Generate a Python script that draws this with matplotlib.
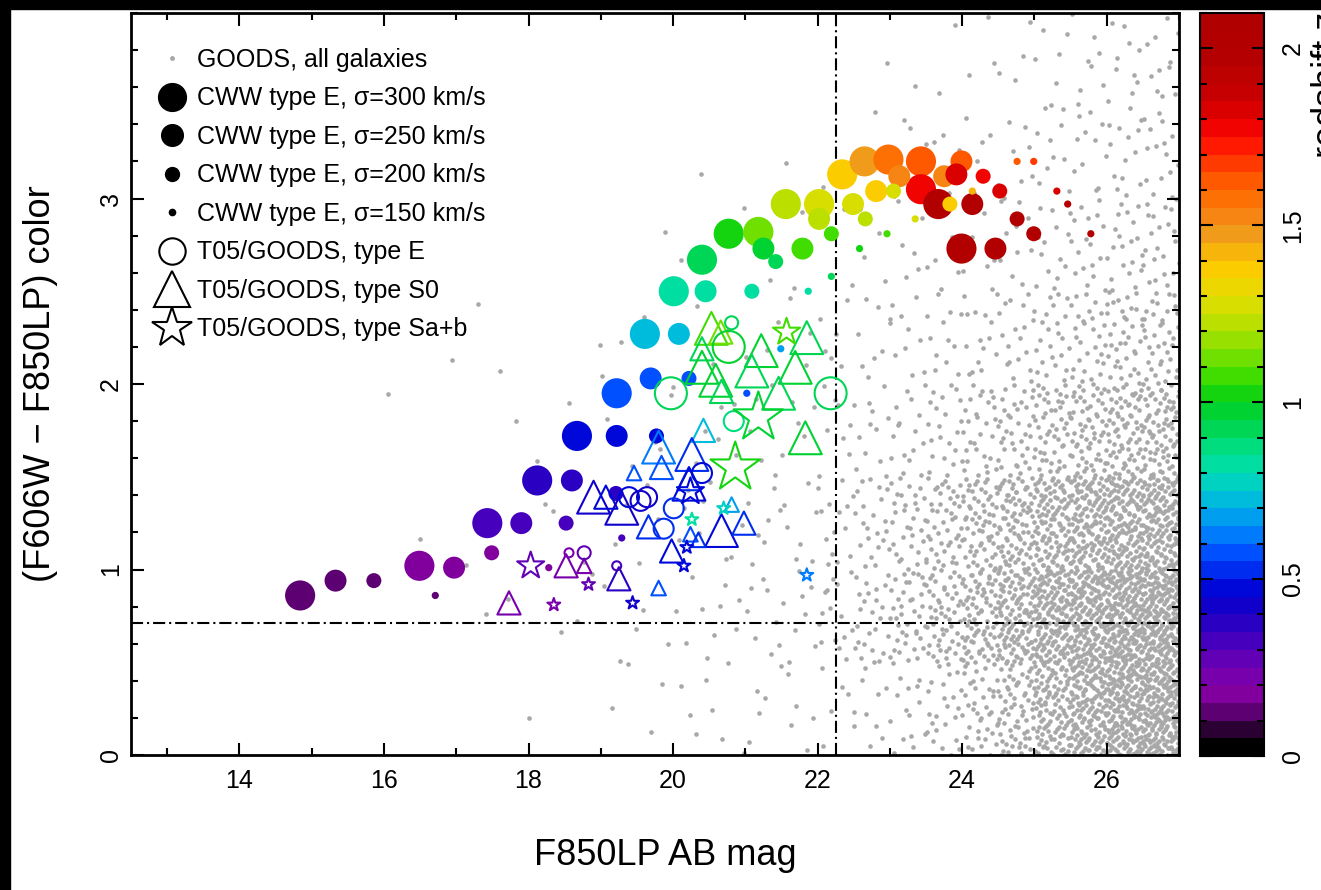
import numpy as np
import matplotlib
matplotlib.use('Agg')
import matplotlib.pyplot as plt
from matplotlib.colors import LinearSegmentedColormap, Normalize
from matplotlib.cm import ScalarMappable
from matplotlib.lines import Line2D
from matplotlib.patches import Rectangle
from matplotlib.ticker import MultipleLocator

plt.rcParams['font.family'] = ['Liberation Sans', 'DejaVu Sans']

# CWW type E model tracks (F850LP mag, F606W-F850LP colour, redshift)
mag300 = [14.84, 16.49, 17.43, 18.12, 18.67, 19.22, 19.61, 20.01, 20.40, 20.77, 21.18,
          21.56, 22.02, 22.34, 22.65, 22.98, 23.43, 23.43, 23.67, 23.99]
col300 = [0.86, 1.02, 1.25, 1.48, 1.72, 1.95, 2.27, 2.50, 2.67, 2.81, 2.82,
          2.97, 2.97, 3.13, 3.20, 3.21, 3.20, 3.05, 2.97, 2.73]
z300 = [0.10, 0.17, 0.30, 0.38, 0.45, 0.58, 0.72, 0.84, 0.95, 1.02, 1.10,
        1.20, 1.28, 1.38, 1.48, 1.55, 1.62, 1.78, 2.02, 2.05]

mag250 = [15.33, 16.97, 17.90, 18.60, 19.22, 19.69, 20.08, 20.45, 21.25, 21.79,
          22.02, 22.49, 22.81, 23.13, 23.75, 23.99, 23.92, 24.14, 24.46]
col250 = [0.94, 1.01, 1.25, 1.48, 1.72, 2.03, 2.27, 2.50, 2.73, 2.73,
          2.89, 2.97, 3.04, 3.12, 3.12, 3.20, 3.13, 2.97, 2.73]
z250 = [0.10, 0.17, 0.30, 0.38, 0.45, 0.58, 0.72, 0.84, 0.98, 1.05,
        1.20, 1.25, 1.38, 1.50, 1.52, 1.60, 1.80, 2.02, 2.05]

mag200 = [15.86, 17.49, 18.52, 19.21, 19.77, 20.22, 21.09, 21.42, 22.19, 22.66,
          23.05, 23.83, 24.29, 24.52, 24.76, 24.99]
col200 = [0.94, 1.09, 1.25, 1.41, 1.72, 2.03, 2.50, 2.66, 2.81, 2.89,
          3.04, 2.97, 3.12, 3.04, 2.89, 2.81]
z200 = [0.10, 0.17, 0.30, 0.38, 0.45, 0.55, 0.84, 0.90, 1.05, 1.20,
        1.28, 1.35, 1.75, 1.80, 2.02, 2.05]

mag150 = [16.71, 18.28, 19.29, 21.02, 21.49, 21.87, 22.19, 22.58, 22.96, 23.35,
          24.14, 24.76, 24.99, 25.31, 25.46, 25.78]
col150 = [0.86, 1.01, 1.17, 1.95, 2.19, 2.50, 2.58, 2.73, 2.81, 2.89,
          3.04, 3.20, 3.20, 3.04, 2.97, 2.81]
z150 = [0.10, 0.17, 0.30, 0.55, 0.68, 0.84, 0.90, 1.00, 1.05, 1.25,
        1.40, 1.60, 1.70, 1.80, 1.95, 2.05]

# T05/GOODS early types: mag, colour, size class, redshift
triE_mag = [20.53, 20.66, 21.85, 20.40, 21.22, 20.40, 21.69, 21.09, 20.59, 21.46, 20.67,
            21.83, 20.42, 19.80, 20.26, 19.84, 19.46, 20.22, 20.22, 18.90, 19.07, 19.29,
            19.66, 20.67, 20.98, 20.81, 20.24, 20.35, 19.98, 18.52, 18.77, 19.25, 19.80, 17.73]
triE_col = [2.30, 2.28, 2.25, 2.19, 2.18, 2.09, 2.09, 2.07, 2.02, 1.95, 1.96,
            1.71, 1.75, 1.66, 1.62, 1.55, 1.52, 1.49, 1.46, 1.39, 1.39, 1.33,
            1.23, 1.21, 1.25, 1.35, 1.19, 1.16, 1.10, 1.02, 1.02, 0.95, 0.90, 0.82]
tri_cls = ['L', 'M', 'L', 'M', 'L', 'L', 'L', 'L', 'L', 'L', 'M',
           'L', 'M', 'L', 'L', 'M', 'S', 'M', 'L', 'L', 'M', 'L',
           'M', 'L', 'M', 'S', 'S', 'S', 'M', 'M', 'S', 'M', 'S', 'M']
tri_z = [1.05, 1.12, 0.95, 0.95, 0.97, 0.97, 0.97, 0.95, 0.97, 0.95, 0.90,
         0.98, 0.70, 0.62, 0.50, 0.55, 0.55, 0.50, 0.45, 0.42, 0.45, 0.42,
         0.50, 0.47, 0.50, 0.65, 0.55, 0.50, 0.45, 0.20, 0.20, 0.35, 0.55, 0.20]

circ_mag = [20.77, 19.97, 22.18, 20.84, 20.40, 19.64, 19.39, 19.55, 20.01, 19.87,
            18.77, 18.56, 19.22, 20.81]
circ_col = [2.20, 1.95, 1.95, 1.80, 1.52, 1.39, 1.39, 1.37, 1.33, 1.22,
            1.09, 1.09, 1.02, 2.33]
circ_cls = ['L', 'L', 'L', 'M', 'M', 'M', 'M', 'M', 'M', 'M', 'S', 'T', 'T', 'S']
circ_z = [0.97, 0.90, 0.90, 0.88, 0.45, 0.42, 0.45, 0.40, 0.50, 0.50,
          0.25, 0.20, 0.30, 0.90]

star_mag = [21.57, 21.18, 20.86, 18.03, 18.35, 18.83, 19.44, 20.15, 20.19, 21.85,
            20.70, 20.26, 20.24]
star_col = [2.28, 1.82, 1.55, 1.02, 0.81, 0.92, 0.82, 1.02, 1.12, 0.97,
            1.33, 1.27, 1.42]
star_cls = ['M', 'L', 'L', 'M', 'S', 'S', 'S', 'S', 'S', 'S', 'S', 'S', 'M']
star_z = [1.05, 0.97, 1.00, 0.25, 0.22, 0.25, 0.40, 0.45, 0.45, 0.62,
          0.75, 0.80, 0.45]

# GOODS field galaxies: counts read per cell (rows: mag bins, cols: colour bins)
grey_mag_edges = [16, 17, 18, 19, 20, 21, 22, 22.5, 23, 23.5, 24, 24.5, 25, 25.5, 26, 26.5, 27]
grey_col_edges = [0, 0.5, 1, 1.5, 2, 2.5, 3, 3.5, 4]
grey_counts = [
    [0, 0, 1, 1, 1, 0, 0, 0],
    [0, 2, 1, 1, 2, 0, 0, 0],
    [1, 3, 3, 2, 1, 0, 0, 0],
    [4, 5, 5, 6, 3, 1, 0, 0],
    [8, 10, 9, 7, 4, 2, 1, 0],
    [10, 16, 14, 10, 6, 4, 1, 0],
    [6, 15, 14, 8, 6, 3, 2, 0],
    [10, 25, 22, 12, 8, 4, 2, 1],
    [15, 38, 32, 16, 10, 6, 4, 1],
    [24, 55, 45, 22, 12, 7, 4, 2],
    [40, 80, 65, 30, 15, 8, 6, 3],
    [65, 115, 85, 38, 18, 10, 7, 4],
    [110, 155, 110, 52, 24, 14, 10, 6],
    [155, 180, 130, 62, 30, 17, 11, 8],
    [190, 200, 145, 72, 36, 20, 14, 10],
    [200, 200, 150, 75, 38, 22, 15, 11],
]

# colour scale
zmax = 2.1
cmap_nodes = [(0.00, '#000000'), (0.05, '#2a0030'), (0.10, '#5a0070'), (0.15, '#82009c'),
              (0.22, '#7400b0'), (0.30, '#4a00bc'), (0.40, '#1400c8'), (0.45, '#0000d4'),
              (0.50, '#0024ea'), (0.55, '#0044ff'), (0.60, '#0070ff'), (0.65, '#0094f4'),
              (0.70, '#00b4e4'), (0.75, '#00cccc'), (0.80, '#00dcae'), (0.85, '#00e090'),
              (0.90, '#00d866'), (0.95, '#00d440'), (1.00, '#00d020'), (1.05, '#28d800'),
              (1.10, '#58e000'), (1.15, '#84e000'), (1.20, '#a8e000'), (1.25, '#c8e000'),
              (1.30, '#e0dc00'), (1.35, '#f4d400'), (1.40, '#ffc800'), (1.45, '#f4ac10'),
              (1.50, '#f09420'), (1.55, '#f88010'), (1.60, '#ff6c00'), (1.65, '#ff5400'),
              (1.70, '#ff3400'), (1.75, '#ff1400'), (1.80, '#ee0000'), (1.85, '#d80000'),
              (1.90, '#c40000'), (2.00, '#b40000'), (2.10, '#b00000')]
cmap = LinearSegmentedColormap.from_list('zrainbow', [(z / zmax, c) for z, c in cmap_nodes], N=42)
norm = Normalize(0, zmax)


def halton(i, b):
    f, r = 1.0, 0.0
    while i > 0:
        f /= b
        r += f * (i % b)
        i //= b
    return r


W, H = 1321, 890
fig = plt.figure(figsize=(W / 100, H / 100), dpi=100)
fig.patch.set_facecolor('white')
fig.add_artist(Rectangle((0, 1 - 9 / H), 1, 9 / H, transform=fig.transFigure, color='black', zorder=0))
fig.add_artist(Rectangle((0, 0), 10 / W, 1, transform=fig.transFigure, color='black', zorder=0))

ax = fig.add_axes([131 / W, 1 - 755 / H, (1179 - 131) / W, (755 - 13) / H])

# grey field galaxies spread evenly within each cell
gx, gy = [], []
k = 1
for i in range(len(grey_mag_edges) - 1):
    for j in range(len(grey_col_edges) - 1):
        for _ in range(grey_counts[i][j]):
            u = halton(k, 2)
            v = halton(k, 3)
            gx.append(grey_mag_edges[i] + u * (grey_mag_edges[i + 1] - grey_mag_edges[i]))
            gy.append(grey_col_edges[j] + v * (grey_col_edges[j + 1] - grey_col_edges[j]))
            k += 7
ax.scatter(gx, gy, s=11, color='#a8a8a8', linewidths=0, zorder=1)

dd = (0, (5.8, 1.9, 1, 1.9))
ax.axhline(0.71, color='black', lw=1.5, ls=dd, zorder=2)
ax.axvline(22.25, color='black', lw=1.5, ls=dd, zorder=2)

sizes_cww = {300: 470, 250: 250, 200: 117, 150: 27}
for m, c, z, sig in [(mag300, col300, z300, 300), (mag250, col250, z250, 250),
                     (mag200, col200, z200, 200), (mag150, col150, z150, 150)]:
    ax.scatter(m, c, s=sizes_cww[sig], c=z, cmap=cmap, norm=norm, linewidths=0, zorder=3)

size_tri = {'L': 560, 'M': 280, 'S': 110}
size_circ = {'L': 530, 'M': 207, 'S': 88, 'T': 42}
size_star = {'L': 1400, 'M': 420, 'S': 95}
for m, c, cls, z, mk, sz in [(triE_mag, triE_col, tri_cls, tri_z, '^', size_tri),
                             (circ_mag, circ_col, circ_cls, circ_z, 'o', size_circ),
                             (star_mag, star_col, star_cls, star_z, '*', size_star)]:
    ax.scatter(m, c, s=[sz[q] for q in cls], marker=mk, facecolors='none',
               edgecolors=cmap(norm(np.array(z))), linewidths=1.5, zorder=4)

ax.set_xlim(12.5, 27)
ax.set_ylim(0, 4)
ax.xaxis.set_major_locator(MultipleLocator(2))
ax.xaxis.set_minor_locator(MultipleLocator(1))
ax.set_yticks([0, 1, 2, 3])
ax.yaxis.set_minor_locator(MultipleLocator(0.2))
ax.tick_params(which='both', direction='in', top=True, right=True, width=1.5, labelsize=18)
ax.tick_params(which='major', length=9)
ax.tick_params(which='minor', length=5)
ax.tick_params(axis='x', pad=10)
ax.tick_params(axis='y', labelrotation=90, pad=6)
for lab in ax.get_yticklabels():
    lab.set_va('center')
for sp in ax.spines.values():
    sp.set_linewidth(2)

ax.set_xlabel('F850LP AB mag', fontsize=26)
ax.xaxis.set_label_coords(0.51, -0.112)
ax.set_ylabel('(F606W \u2212 F850LP) color', fontsize=26)
ax.yaxis.set_label_coords(-0.07, 0.5)

handles = [Line2D([], [], ls='', marker='o', color='#a8a8a8', markersize=2.5),
           Line2D([], [], ls='', marker='o', color='black', markersize=20),
           Line2D([], [], ls='', marker='o', color='black', markersize=15.6),
           Line2D([], [], ls='', marker='o', color='black', markersize=10),
           Line2D([], [], ls='', marker='o', color='black', markersize=4.5),
           Line2D([], [], ls='', marker='o', mfc='none', mec='black', mew=1.5, markersize=19),
           Line2D([], [], ls='', marker='^', mfc='none', mec='black', mew=1.5, markersize=26),
           Line2D([], [], ls='', marker='*', mfc='none', mec='black', mew=1.5, markersize=30)]
labels = ['GOODS, all galaxies',
          'CWW type E, \u03c3=300 km/s',
          'CWW type E, \u03c3=250 km/s',
          'CWW type E, \u03c3=200 km/s',
          'CWW type E, \u03c3=150 km/s',
          'T05/GOODS, type E',
          'T05/GOODS, type S0',
          'T05/GOODS, type Sa+b']
ax.legend(handles, labels, loc='upper left', bbox_to_anchor=(0.025, 0.953), borderaxespad=0,
          borderpad=0, frameon=False, fontsize=18, handlelength=1.2, handletextpad=0.4,
          labelspacing=0.58)

cax = fig.add_axes([1200 / W, 1 - 756 / H, 64 / W, (756 - 13) / H])
cb = fig.colorbar(ScalarMappable(norm=norm, cmap=cmap), cax=cax)
cb.set_ticks([0, 0.5, 1, 1.5, 2])
cb.set_ticklabels(['0', '0.5', '1', '1.5', '2'])
cax.yaxis.set_minor_locator(MultipleLocator(0.1))
cax.tick_params(which='both', direction='in', left=True, right=True, width=1.5,
                labelsize=18, labelrotation=90, pad=12)
cax.tick_params(which='major', length=9)
cax.tick_params(which='minor', length=5)
for lab in cax.get_yticklabels():
    lab.set_va('center')
cb.outline.set_linewidth(1.5)
fig.text(1311 / W, 1 - 12 / H, 'redshift z', rotation=90, ha='left', va='top', fontsize=26)

fig.savefig('out.png', dpi=100)
